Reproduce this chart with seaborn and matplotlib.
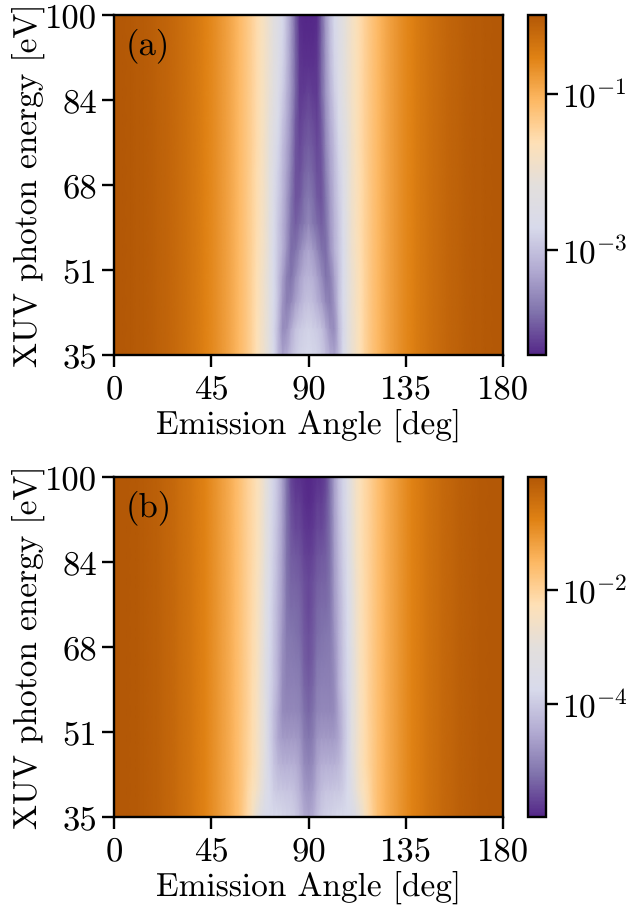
from matplotlib import pyplot as plt
from matplotlib.colors import LinearSegmentedColormap, LogNorm
import numpy as np
import seaborn as sns

# values are log10 of the yield
# angles 0-58 deg every 2 deg, same at all energies
outer_a = [0.0, -0.00, -0.00, -0.01, -0.02, -0.03, -0.04, -0.05, -0.07, -0.09,
           -0.11, -0.13, -0.16, -0.19, -0.22, -0.25, -0.29, -0.33, -0.37, -0.41,
           -0.46, -0.52, -0.57, -0.63, -0.70, -0.77, -0.84, -0.92, -1.01, -1.10]
outer_b = [0.0, -0.00, -0.01, -0.01, -0.03, -0.04, -0.06, -0.08, -0.10, -0.13,
           -0.16, -0.20, -0.24, -0.28, -0.32, -0.38, -0.43, -0.49, -0.55, -0.62,
           -0.69, -0.77, -0.86, -0.95, -1.05, -1.15, -1.26, -1.38, -1.51, -1.65]

# angles 60-90 deg every 2 deg, one list per photon energy
a_100 = [-1.20, -1.31, -1.43, -1.56, -1.71, -1.86, -2.04, -2.24, -2.47, -2.73, -3.04, -3.43, -3.92, -4.30, -4.35, -4.35]
a_95 = [-1.20, -1.31, -1.43, -1.56, -1.71, -1.86, -2.05, -2.26, -2.50, -2.76, -3.06, -3.44, -3.90, -4.26, -4.30, -4.30]
a_90 = [-1.20, -1.31, -1.43, -1.56, -1.71, -1.87, -2.06, -2.28, -2.54, -2.80, -3.10, -3.46, -3.88, -4.22, -4.25, -4.25]
a_85 = [-1.20, -1.31, -1.43, -1.56, -1.71, -1.88, -2.08, -2.32, -2.58, -2.86, -3.16, -3.48, -3.88, -4.20, -4.18, -4.14]
a_80 = [-1.20, -1.31, -1.43, -1.57, -1.72, -1.89, -2.12, -2.38, -2.66, -2.96, -3.24, -3.54, -3.96, -4.16, -4.08, -4.04]
a_75 = [-1.20, -1.31, -1.43, -1.57, -1.72, -1.90, -2.17, -2.45, -2.75, -3.05, -3.30, -3.60, -4.00, -4.10, -4.00, -3.95]
a_70 = [-1.20, -1.31, -1.44, -1.58, -1.74, -1.92, -2.20, -2.52, -2.82, -3.10, -3.36, -3.68, -4.02, -4.05, -3.92, -3.84]
a_65 = [-1.20, -1.32, -1.44, -1.58, -1.75, -1.93, -2.22, -2.58, -2.88, -3.14, -3.42, -3.76, -4.02, -3.98, -3.82, -3.72]
a_60 = [-1.20, -1.32, -1.44, -1.59, -1.76, -1.94, -2.24, -2.64, -2.92, -3.18, -3.46, -3.82, -3.95, -3.85, -3.72, -3.60]
a_55 = [-1.21, -1.32, -1.45, -1.60, -1.77, -1.95, -2.25, -2.70, -2.95, -3.20, -3.50, -3.85, -3.80, -3.60, -3.40, -3.30]
a_50 = [-1.21, -1.33, -1.46, -1.62, -1.80, -2.00, -2.30, -2.70, -3.00, -3.35, -3.70, -3.80, -3.55, -3.35, -3.20, -3.15]
a_45 = [-1.21, -1.33, -1.46, -1.62, -1.80, -2.00, -2.30, -2.70, -3.00, -3.45, -3.70, -3.60, -3.35, -3.20, -3.05, -3.00]
a_40 = [-1.21, -1.33, -1.47, -1.63, -1.82, -2.02, -2.30, -2.75, -3.10, -3.55, -3.50, -3.25, -3.00, -2.90, -2.85, -2.80]
a_35 = [-1.21, -1.33, -1.47, -1.63, -1.82, -2.02, -2.30, -2.70, -3.10, -3.35, -3.25, -3.05, -2.90, -2.80, -2.75, -2.72]

b_100 = [-1.81, -1.97, -2.12, -2.30, -2.55, -2.90, -3.40, -3.85, -4.15, -4.65, -5.25, -5.70, -5.85, -5.90, -5.95, -5.98]
b_95 = [-1.81, -1.97, -2.12, -2.30, -2.56, -2.93, -3.45, -3.88, -4.20, -4.66, -5.25, -5.60, -5.75, -5.75, -5.90, -5.95]
b_90 = [-1.81, -1.97, -2.13, -2.32, -2.58, -2.96, -3.50, -3.92, -4.25, -4.68, -5.25, -5.52, -5.65, -5.65, -5.80, -5.85]
b_85 = [-1.81, -1.97, -2.13, -2.33, -2.60, -3.00, -3.55, -3.95, -4.30, -4.70, -5.25, -5.45, -5.50, -5.55, -5.70, -5.75]
b_80 = [-1.81, -1.98, -2.14, -2.35, -2.65, -3.10, -3.65, -4.00, -4.35, -4.72, -5.22, -5.38, -5.40, -5.45, -5.60, -5.65]
b_75 = [-1.81, -1.98, -2.15, -2.37, -2.70, -3.20, -3.75, -4.05, -4.40, -4.75, -5.20, -5.30, -5.30, -5.35, -5.55, -5.65]
b_70 = [-1.82, -1.98, -2.16, -2.38, -2.74, -3.22, -3.77, -4.07, -4.42, -4.82, -5.15, -5.20, -5.25, -5.30, -5.50, -5.60]
b_65 = [-1.82, -1.98, -2.17, -2.39, -2.77, -3.24, -3.79, -4.09, -4.44, -4.86, -5.10, -5.12, -5.15, -5.20, -5.45, -5.55]
b_60 = [-1.82, -1.99, -2.18, -2.40, -2.80, -3.25, -3.80, -4.10, -4.45, -4.90, -5.05, -5.05, -5.05, -5.10, -5.35, -5.45]
b_55 = [-1.82, -1.99, -2.19, -2.42, -2.80, -3.20, -3.85, -4.20, -4.55, -4.90, -4.95, -4.95, -4.95, -5.00, -5.25, -5.35]
b_50 = [-1.83, -2.00, -2.20, -2.45, -2.80, -3.20, -3.85, -4.20, -4.55, -4.70, -4.72, -4.72, -4.72, -4.80, -5.10, -5.20]
b_45 = [-1.83, -2.00, -2.20, -2.45, -2.80, -3.30, -3.80, -4.10, -4.30, -4.40, -4.42, -4.42, -4.45, -4.60, -4.90, -5.00]
b_40 = [-1.85, -2.10, -2.30, -2.55, -2.90, -3.40, -3.75, -3.95, -4.05, -4.05, -4.10, -4.10, -4.20, -4.40, -4.70, -4.80]
b_35 = [-1.90, -2.15, -2.50, -2.95, -3.40, -3.70, -3.75, -3.75, -3.75, -3.80, -3.85, -3.90, -4.00, -4.20, -4.50, -4.60]

rows_a = [a_100, a_95, a_90, a_85, a_80, a_75, a_70, a_65, a_60, a_55, a_50, a_45, a_40, a_35]
rows_b = [b_100, b_95, b_90, b_85, b_80, b_75, b_70, b_65, b_60, b_55, b_50, b_45, b_40, b_35]

angle_ticks = [0, 45, 90, 135, 180]
energy_ticks = [100, 84, 68, 51, 35]
cmap_colors = ['#542788', '#8073ac', '#b2abd2', '#d8daeb', '#e3dfdc', '#fee0b6', '#fdb863', '#e08214', '#b35806']

sns.set_theme(style='ticks')
plt.rcParams['font.family'] = ['cmr10', 'DejaVu Sans']
plt.rcParams['mathtext.fontset'] = 'cm'
plt.rcParams['axes.formatter.use_mathtext'] = True
plt.rcParams['axes.unicode_minus'] = False
plt.rcParams['text.hinting'] = 'no_hinting'
plt.rcParams['text.hinting_factor'] = 1

W, H = 627, 907
FS = 24
TICK_FS = 25


def panel(top, outer, rows, vmin, vmax, cb_ticks, cb_labels, tag):

    # the picture is mirror symmetric about 90 deg
    table = np.array([outer + r + r[-2::-1] + outer[::-1] for r in rows])
    ax = plt.gcf().add_axes([114 / W, 1 - (top + 340) / H, 389 / W, 340 / H])
    cax = plt.gcf().add_axes([528 / W, 1 - (top + 340) / H, 18 / W, 340 / H])

    cmap = LinearSegmentedColormap.from_list('puor', cmap_colors, N=256)
    sns.heatmap(10.0 ** table, ax=ax, cbar_ax=cax, cmap=cmap, norm=LogNorm(vmin=vmin, vmax=vmax),
                xticklabels=False, yticklabels=False, rasterized=True, shading='gouraud')

    # gouraud puts the values on the grid nodes
    nrow, ncol = table.shape
    ax.set_xlim(0, ncol - 1)
    ax.set_ylim(nrow - 1, 0)
    ax.set_xticks(np.linspace(0, ncol - 1, 5))
    ax.set_xticklabels(angle_ticks, rotation=0)
    ax.set_yticks(np.linspace(0, nrow - 1, 5))
    ax.set_yticklabels(energy_ticks, rotation=0)
    ax.set_xlabel('Emission Angle [deg]', fontsize=FS, color='black', labelpad=3)
    ax.set_ylabel('XUV photon energy [eV]', fontsize=FS, color='black', labelpad=0, y=0.5)
    ax.tick_params(axis='both', labelsize=TICK_FS, length=8.6, width=1.7, colors='black')
    ax.tick_params(axis='x', pad=5)
    ax.tick_params(axis='y', pad=3.5)
    ax.text(0.031, 0.91, tag, transform=ax.transAxes, fontsize=FS + 1, color='black', va='center')
    for s in ax.spines.values():
        s.set_visible(True)
        s.set_linewidth(1.7)
        s.set_color('black')

    cb = ax.collections[0].colorbar
    cb.set_ticks(cb_ticks)
    cb.set_ticklabels(cb_labels)
    cb.minorticks_off()
    cax.tick_params(axis='y', labelsize=TICK_FS - 1, length=8.6, width=1.7, colors='black', pad=3)
    cb.outline.set_visible(True)
    cb.outline.set_linewidth(1.7)
    cb.outline.set_edgecolor('black')


fig = plt.figure(figsize=(W / 100, H / 100), dpi=100, facecolor='white')
panel(15, outer_a, rows_a, 10 ** -4.35, 10 ** 0.01, [1e-1, 1e-3], ['$10^{-1}$', '$10^{-3}$'], '(a)')
panel(477, outer_b, rows_b, 1e-6, 1.0, [1e-2, 1e-4], ['$10^{-2}$', '$10^{-4}$'], '(b)')
fig.savefig('out.png', dpi=100)
